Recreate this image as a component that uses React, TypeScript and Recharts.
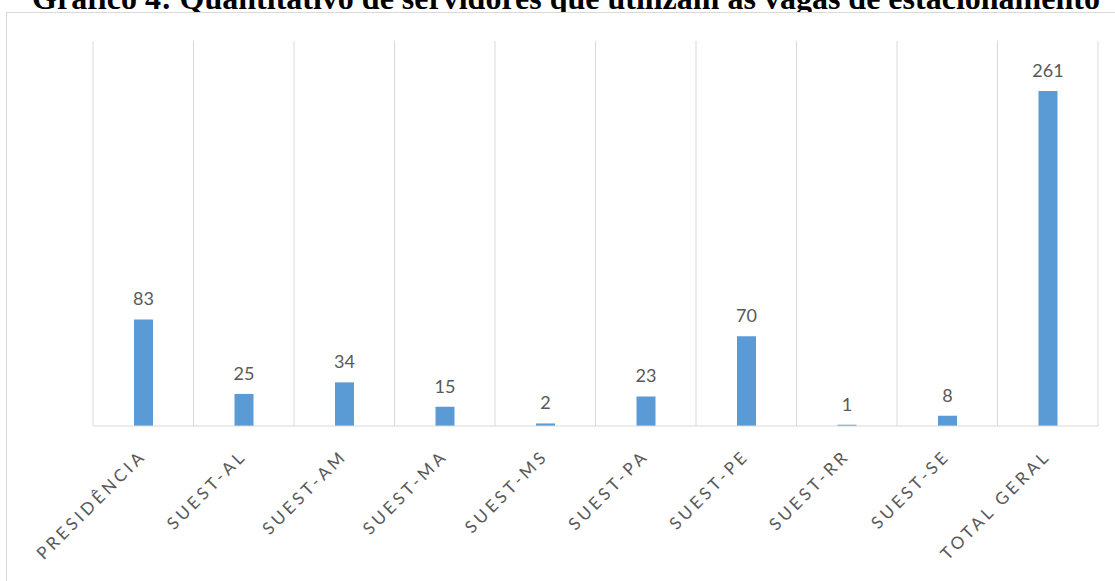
import React from 'react';
import { BarChart, Bar, XAxis, YAxis, CartesianGrid, LabelList } from 'recharts';

const categories = ['PRESIDÊNCIA', 'SUEST-AL', 'SUEST-AM', 'SUEST-MA', 'SUEST-MS', 'SUEST-PA', 'SUEST-PE', 'SUEST-RR', 'SUEST-SE', 'TOTAL GERAL'];
const values = [83, 25, 34, 15, 2, 23, 70, 1, 8, 261];
const title = 'Gráfico 4: Quantitativo de servidores que utilizam as vagas de estacionamento';

const data = categories.map((c, i) => ({ name: c, value: values[i] }));

const Tick = (props: any) => {
  const { x, y, payload } = props;
  return (
    <g transform={`translate(${x + 4},${y + 31})`}>
      <text transform="rotate(-45)" textAnchor="end" fill="#595959" fontSize={17} letterSpacing={3.5} fontFamily="Lato">
        {payload.value}
      </text>
    </g>
  );
};

export default function App() {
  return (
    <div style={{ position: 'absolute', left: 0, top: 0, width: 1115, height: 581, overflow: 'hidden', background: '#fff' }}>
      <svg width={1115} height={40} style={{ position: 'absolute', left: 0, top: 0 }}>
        <text x={566} y={9} textAnchor="middle" fontFamily="'Liberation Serif', 'Times New Roman', serif" fontWeight="bold" fontSize={32} fill="#000">
          {title}
        </text>
      </svg>
      <div style={{ position: 'absolute', left: 6, top: 12, width: 1130, height: 600, border: '1px solid #d9d9d9', background: '#fff' }} />
      <div style={{ position: 'absolute', left: 0, top: 0 }}>
        <BarChart width={1115} height={581} data={data} margin={{ top: 41, left: 93, right: 17, bottom: 0 }}>
          <CartesianGrid
            horizontal={false}
            stroke="#d9d9d9"
            strokeWidth={1}
            verticalCoordinatesGenerator={({ offset }: any) =>
              Array.from({ length: categories.length + 1 }, (_, i) => offset.left + (i * offset.width) / categories.length)
            }
          />
          <XAxis
            dataKey="name"
            height={155}
            interval={0}
            tickLine={false}
            tickSize={0}
            tickMargin={0}
            axisLine={{ stroke: '#d9d9d9', strokeWidth: 1 }}
            tick={<Tick />}
          />
          <YAxis hide domain={[0, 300]} />
          <Bar dataKey="value" fill="#5b9bd5" barSize={19} isAnimationActive={false}>
            <LabelList dataKey="value" position="top" offset={14} fill="#595959" fontSize={18} fontFamily="Lato" />
          </Bar>
        </BarChart>
      </div>
    </div>
  );
}
